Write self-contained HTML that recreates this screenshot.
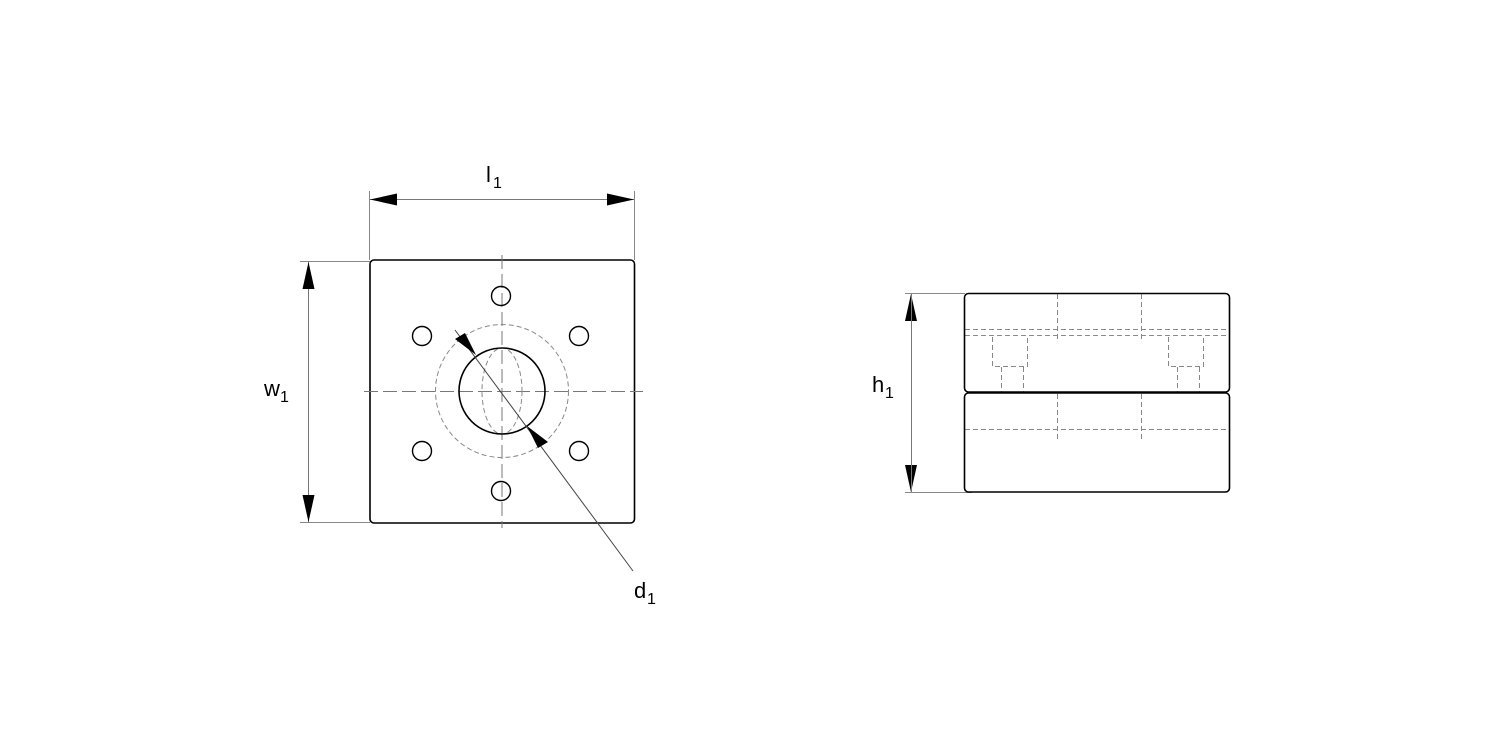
<!DOCTYPE html>
<html><head><meta charset="utf-8"><style>
html,body{margin:0;padding:0;background:#fff;}
svg{display:block}
text{font-family:"Liberation Sans",Arial,sans-serif;fill:#000}
</style></head><body>
<svg width="1500" height="750" viewBox="0 0 1500 750" xmlns="http://www.w3.org/2000/svg">
<g fill="none">
  <line x1="369.5" y1="191" x2="369.5" y2="260" stroke="#888" stroke-width="1"/>
  <line x1="634.5" y1="191" x2="634.5" y2="260" stroke="#888" stroke-width="1"/>
  <line x1="300" y1="261.5" x2="370" y2="261.5" stroke="#888" stroke-width="1"/>
  <line x1="300" y1="522.5" x2="370" y2="522.5" stroke="#888" stroke-width="1"/>
  <line x1="370" y1="199.5" x2="634" y2="199.5" stroke="#777" stroke-width="1"/>
  <line x1="308.5" y1="262" x2="308.5" y2="522" stroke="#777" stroke-width="1"/>
  <rect x="370" y="260" width="264.5" height="263" rx="4" stroke="#000" stroke-width="1.6"/>
  <line x1="502" y1="255" x2="502" y2="528" stroke="#777" stroke-width="1" stroke-dasharray="14,5"/>
  <line x1="364" y1="391.5" x2="643" y2="391.5" stroke="#777" stroke-width="1" stroke-dasharray="14,5"/>
  <circle cx="502" cy="391" r="66.5" stroke="#888" stroke-width="1" stroke-dasharray="5,3"/>
  <ellipse cx="502" cy="391" rx="20" ry="43" stroke="#888" stroke-width="1" stroke-dasharray="5,3"/>
  <circle cx="502" cy="391" r="43" stroke="#000" stroke-width="1.6"/>
  <g stroke="#000" stroke-width="1.4">
    <circle cx="501" cy="296" r="9.5"/>
    <circle cx="422" cy="336" r="9.5"/>
    <circle cx="579" cy="336" r="9.5"/>
    <circle cx="422" cy="451" r="9.5"/>
    <circle cx="579" cy="451" r="9.5"/>
    <circle cx="501" cy="491" r="9.5"/>
  </g>
  <line x1="455" y1="330" x2="633" y2="571" stroke="#444" stroke-width="1"/>
</g>
<g fill="#000">
  <polygon points="370,199.5 397,193.5 397,205.5"/>
  <polygon points="634,199.5 607,193.5 607,205.5"/>
  <polygon points="308.5,262 302.5,289 314.5,289"/>
  <polygon points="308.5,522 302.5,495 314.5,495"/>
  <polygon points="476,355 455,339 465,333"/>
  <polygon points="527,426 548,442 538,448"/>
  <polygon points="911,294 905,321 917,321"/>
  <polygon points="911,492 905,465 917,465"/>
</g>
<text x="486" y="182" font-size="22">l</text><text x="493" y="188" font-size="16">1</text>
<text x="264" y="396" font-size="22">w</text><text x="280" y="402" font-size="16">1</text>
<text x="634" y="598" font-size="22">d</text><text x="647" y="604" font-size="16">1</text>
<text x="872" y="392" font-size="22">h</text><text x="885" y="398" font-size="16">1</text>

<g fill="none">
  <line x1="905" y1="293.5" x2="965" y2="293.5" stroke="#888" stroke-width="1"/>
  <line x1="905" y1="492.5" x2="972" y2="492.5" stroke="#888" stroke-width="1"/>
  <line x1="911.5" y1="294" x2="911.5" y2="492" stroke="#777" stroke-width="1"/>
  <g stroke="#888" stroke-width="1" stroke-dasharray="5,3">
    <line x1="965" y1="329.5" x2="1229" y2="329.5"/>
    <line x1="965" y1="335.5" x2="1229" y2="335.5"/>
    <line x1="1057.5" y1="294" x2="1057.5" y2="340"/>
    <line x1="1141.5" y1="294" x2="1141.5" y2="340"/>
    <polyline points="992.5,337 992.5,366.5 1027.5,366.5 1027.5,337"/>
    <line x1="1001.5" y1="367" x2="1001.5" y2="392"/>
    <line x1="1023.5" y1="367" x2="1023.5" y2="392"/>
    <polyline points="1168.5,337 1168.5,366.5 1203.5,366.5 1203.5,337"/>
    <line x1="1177.5" y1="367" x2="1177.5" y2="392"/>
    <line x1="1199.5" y1="367" x2="1199.5" y2="392"/>
    <line x1="965" y1="429.5" x2="1229" y2="429.5"/>
    <line x1="1057.5" y1="394" x2="1057.5" y2="440"/>
    <line x1="1141.5" y1="394" x2="1141.5" y2="440"/>
  </g>
  <rect x="964.5" y="293.5" width="265" height="98.5" rx="4" stroke="#000" stroke-width="1.6"/>
  <rect x="964.5" y="393" width="265" height="99" rx="4" stroke="#000" stroke-width="1.6"/>
</g>
</svg>
</body></html>
